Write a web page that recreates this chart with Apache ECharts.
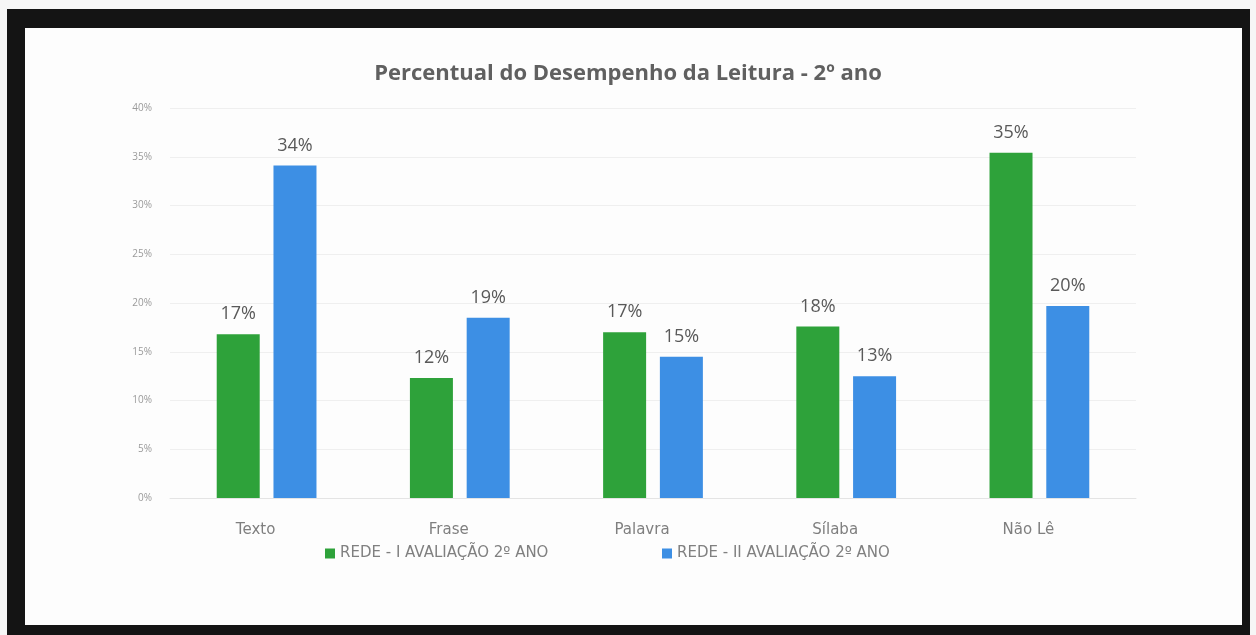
<!DOCTYPE html>
<html>
<head>
<meta charset="utf-8">
<script src="https://cdn.jsdelivr.net/npm/echarts@6/dist/echarts.min.js"></script>
<style>
html,body{margin:0;padding:0;background:#f6f6f6;width:1256px;height:635px;overflow:hidden;}
#frame{position:absolute;left:7px;top:9px;width:1243px;height:626px;background:#141414;}
#white{position:absolute;left:25px;top:28px;width:1217px;height:597px;background:#fdfdfd;}
#chart{position:absolute;left:0;top:0;width:1256px;height:635px;}
</style>
</head>
<body>
<div id="frame"></div>
<div id="white"></div>
<div id="chart"></div>
<script>
const categories = ['Texto', 'Frase', 'Palavra', 'Sílaba', 'Não Lê'];
const seriesNames = ['REDE - I AVALIAÇÃO 2º ANO', 'REDE - II AVALIAÇÃO 2º ANO'];
const avaliacao1 = [16.8, 12.3, 17.0, 17.6, 35.4];
const avaliacao2 = [34.1, 18.5, 14.5, 12.5, 19.7];
const titleText = 'Percentual do Desempenho da Leitura - 2º ano';

const chart = echarts.init(document.getElementById('chart'), null, {renderer: 'canvas'});
const labelStyle = {
  show: true, position: 'top', distance: 11,
  color: '#595959', fontSize: 18, fontFamily: 'Open Sans',
  formatter: p => Math.round(p.value) + '%'
};
const legendText = {color: '#808080', fontSize: 15, fontFamily: 'DejaVu Sans'};
chart.setOption({
  backgroundColor: 'transparent',
  animation: false,
  title: {
    text: titleText, left: 'center', top: 58,
    textStyle: {color: '#606060', fontSize: 22, fontWeight: 'bold', fontFamily: 'Open Sans'}
  },
  legend: [
    {data: [seriesNames[0]], top: 541, left: 320, itemWidth: 10, itemHeight: 10, itemGap: 5, icon: 'rect', textStyle: legendText},
    {data: [seriesNames[1]], top: 541, left: 657, itemWidth: 10, itemHeight: 10, itemGap: 5, icon: 'rect', textStyle: legendText}
  ],
  grid: {left: 170, right: 120, top: 108, bottom: 137, containLabel: false},
  xAxis: {
    type: 'category', data: categories,
    axisLine: {show: true, lineStyle: {color: '#e4e4e4'}},
    axisTick: {show: false},
    axisLabel: {color: '#7f7f7f', fontSize: 15, margin: 25, fontFamily: 'DejaVu Sans', padding: [0, 22, 0, 0]}
  },
  yAxis: {
    type: 'value', min: 0, max: 40, interval: 5,
    axisLine: {show: false}, axisTick: {show: false},
    axisLabel: {formatter: '{value}%', color: '#9a9a9a', fontSize: 10, margin: 18, fontFamily: 'Open Sans'},
    splitLine: {lineStyle: {color: '#efefef'}}
  },
  series: [
    {name: seriesNames[0], type: 'bar', data: avaliacao1, barWidth: 43, barGap: '32%',
     itemStyle: {color: '#2ea23a'}, label: labelStyle},
    {name: seriesNames[1], type: 'bar', data: avaliacao2, barWidth: 43,
     itemStyle: {color: '#3d8fe4'}, label: labelStyle}
  ]
});
</script>
</body>
</html>
